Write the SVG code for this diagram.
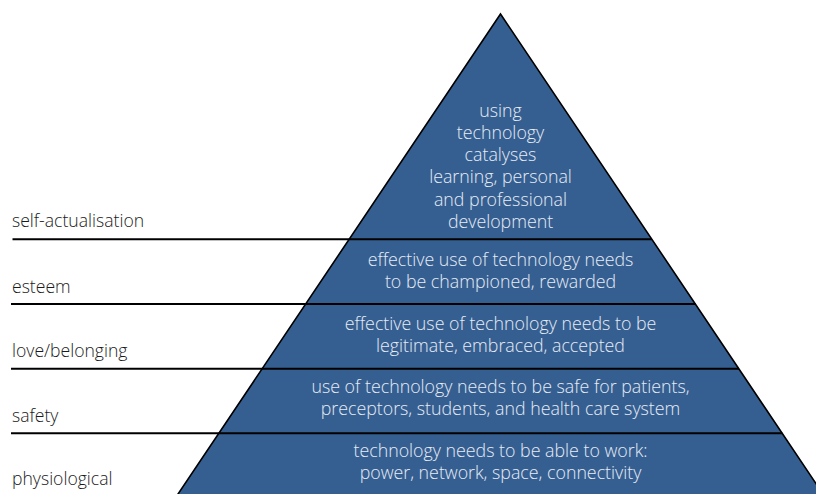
<svg xmlns="http://www.w3.org/2000/svg" width="816" height="494" viewBox="0 0 816 494">
  <style>
    .band { fill: #365f91; stroke: none; }
    .edge { fill: none; stroke: #000; stroke-width: 1.6; stroke-linejoin: miter; }
    .rule { stroke: #000; stroke-width: 2; }
    .lbl { font-family: "Open Sans", "Noto Sans", sans-serif; font-weight: 300; font-size: 17.6px; fill: #1a1a1a; }
    .in { font-family: "Open Sans", "Noto Sans", sans-serif; font-weight: 300; font-size: 17.8px; fill: #e6ecf5; text-anchor: middle; }
  </style>
  <rect width="816" height="494" fill="#ffffff"/>
  <g id="level-self-actualisation">
    <polygon class="band" points="500.5,14 651.9,239.3 349.1,239.3"/>
    <text class="in" x="500.5" y="116.5">using</text>
    <text class="in" x="500.5" y="138.8">technology</text>
    <text class="in" x="500.5" y="161">catalyses</text>
    <text class="in" x="500.5" y="183.3">learning, personal</text>
    <text class="in" x="500.5" y="205.5">and professional</text>
    <text class="in" x="500.5" y="227.8">development</text>
    <text class="lbl" x="12" y="226.5">self-actualisation</text>
  </g>
  <g id="level-esteem">
    <polygon class="band" points="349.1,239.3 651.9,239.3 695.4,304 305.6,304"/>
    <text class="in" x="500.5" y="265.5">effective use of technology needs</text>
    <text class="in" x="500.5" y="287.8">to be championed, rewarded</text>
    <text class="lbl" x="12" y="292.5">esteem</text>
  </g>
  <g id="level-love-belonging">
    <polygon class="band" points="305.6,304 695.4,304 738.9,368.7 262.1,368.7"/>
    <text class="in" x="500.5" y="330">effective use of technology needs to be</text>
    <text class="in" x="500.5" y="352.2">legitimate, embraced, accepted</text>
    <text class="lbl" x="12" y="356.5">love/belonging</text>
  </g>
  <g id="level-safety">
    <polygon class="band" points="262.1,368.7 738.9,368.7 782.3,433.3 218.7,433.3"/>
    <text class="in" x="500.5" y="392.5">use of technology needs to be safe for patients,</text>
    <text class="in" x="500.5" y="414.7">preceptors, students, and health care system</text>
    <text class="lbl" x="12" y="421.5">safety</text>
  </g>
  <g id="level-physiological">
    <polygon class="band" points="218.7,433.3 782.3,433.3 827,500 174,500"/>
    <text class="in" x="500.5" y="457">technology needs to be able to work:</text>
    <text class="in" x="500.5" y="479.2">power, network, space, connectivity</text>
    <text class="lbl" x="12" y="485">physiological</text>
  </g>
  <g id="connectors">
    <polyline class="edge" points="174,500 500.5,14 827,500"/>
    <line class="rule" x1="12.5" y1="239.3" x2="651.9" y2="239.3"/>
    <line class="rule" x1="11" y1="304" x2="695.4" y2="304"/>
    <line class="rule" x1="11" y1="368.7" x2="738.9" y2="368.7"/>
    <line class="rule" x1="11" y1="433.3" x2="782.3" y2="433.3"/>
  </g>
</svg>
